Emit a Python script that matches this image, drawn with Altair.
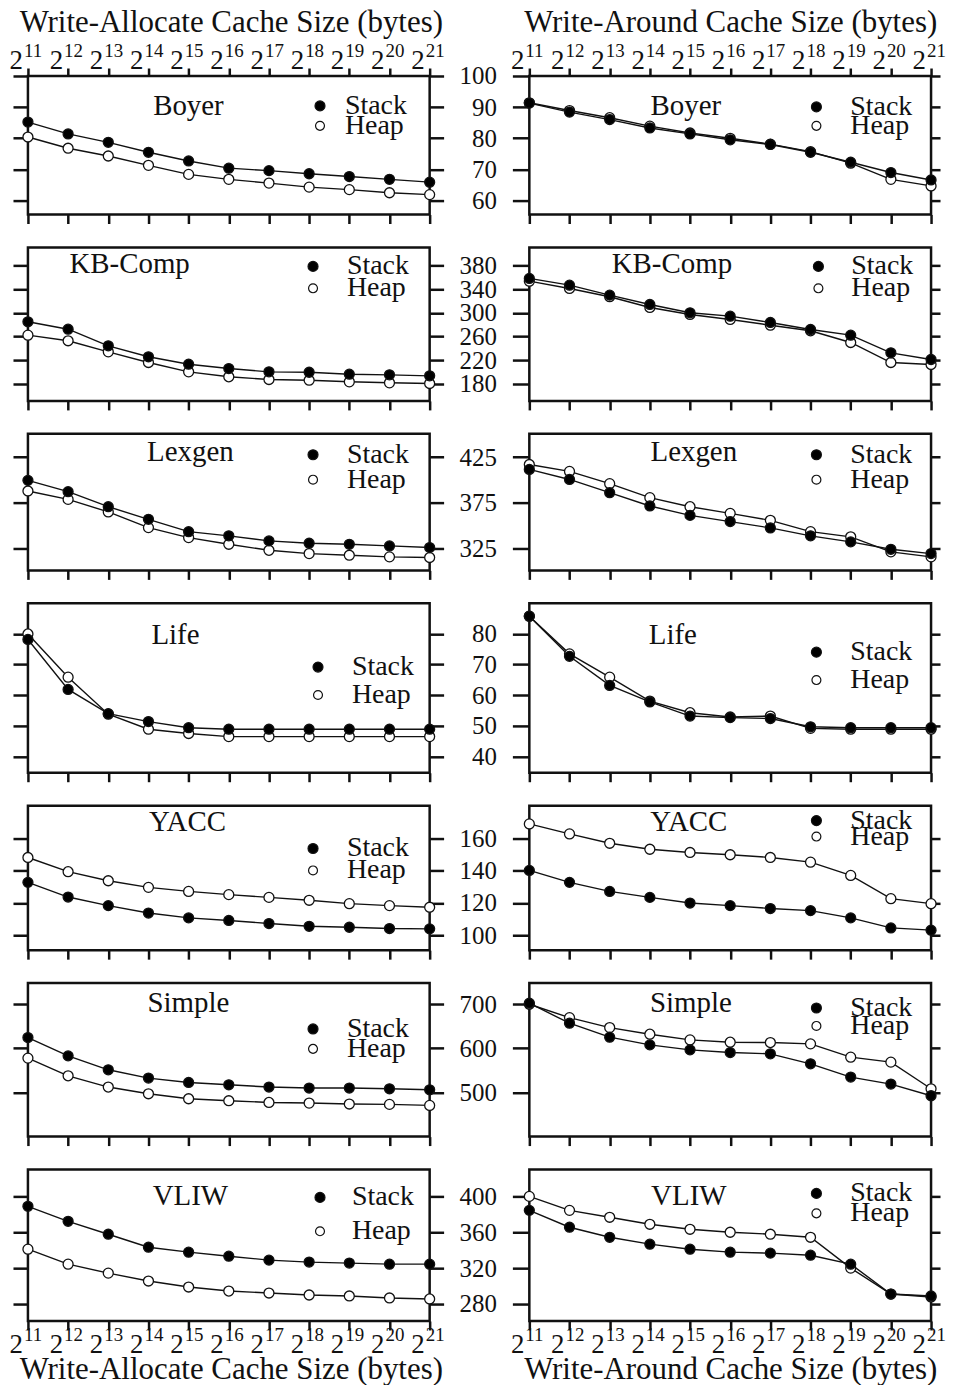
import altair as alt
import pandas as pd

# ---------------- data ----------------
exponents = [11, 12, 13, 14, 15, 16, 17, 18, 19, 20, 21]
tick_base = ["2", "2", "2", "2", "2", "2", "2", "2", "2", "2", "2"]
tick_sup = ["11", "12", "13", "14", "15", "16", "17", "18", "19", "20", "21"]
benchmarks = ["Boyer", "KB-Comp", "Lexgen", "Life", "YACC", "Simple", "VLIW"]
series_names = ["Stack", "Heap"]
x_titles = ["Write-Allocate Cache Size (bytes)", "Write-Around Cache Size (bytes)"]

boyer_alloc_stack = [85.2, 81.4, 78.7, 75.5, 72.7, 70.4, 69.6, 68.6, 67.7, 66.8, 65.9]
boyer_alloc_heap = [80.4, 76.8, 74.3, 71.3, 68.4, 66.8, 65.6, 64.3, 63.5, 62.5, 61.9]
boyer_around_stack = [91.3, 88.4, 86.0, 83.3, 81.4, 79.5, 78.0, 75.5, 72.3, 69.0, 66.6]
boyer_around_heap = [91.4, 88.9, 86.6, 83.9, 81.7, 80.0, 78.1, 75.7, 72.0, 66.8, 64.7]

kb_alloc_stack = [285.1, 272.5, 244.4, 225.8, 213.2, 205.9, 200.3, 199.6, 196.3, 195.2, 193.5]
kb_alloc_heap = [262.4, 252.9, 234.2, 216.1, 200.3, 191.9, 187.3, 186.1, 183.4, 181.7, 180.5]
kb_around_stack = [358.5, 347.1, 330.2, 314.4, 300.3, 294.6, 283.9, 272.0, 262.4, 232.5, 221.2]
kb_around_heap = [353.9, 341.5, 327.5, 309.3, 297.5, 289.0, 279.3, 269.8, 250.0, 216.1, 212.7]

lexgen_alloc_stack = [399.5, 387.1, 370.7, 356.9, 343.4, 338.8, 333.3, 330.7, 329.6, 327.8, 326.0]
lexgen_alloc_heap = [387.9, 378.7, 365.0, 347.8, 336.9, 329.6, 323.0, 319.4, 317.6, 315.8, 315.1]
lexgen_around_stack = [411.5, 400.5, 386.0, 371.5, 361.2, 354.4, 347.5, 338.8, 332.2, 324.1, 319.4]
lexgen_around_heap = [416.9, 409.3, 395.9, 380.6, 370.7, 363.4, 355.8, 343.4, 337.7, 321.3, 315.8]

life_alloc_stack = [78.2, 61.9, 54.0, 51.4, 49.4, 48.9, 48.9, 48.9, 48.9, 48.9, 48.9]
life_alloc_heap = [80.0, 65.9, 53.8, 48.9, 47.5, 46.5, 46.5, 46.5, 46.5, 46.5, 46.5]
life_around_stack = [85.8, 72.7, 63.2, 57.8, 53.2, 52.7, 52.4, 49.7, 49.4, 49.4, 49.4]
life_around_heap = [85.8, 73.5, 65.9, 58.1, 54.3, 52.9, 53.2, 49.2, 48.9, 48.9, 48.9]

yacc_alloc_stack = [132.7, 123.6, 118.3, 113.7, 110.7, 109.1, 107.2, 105.5, 104.9, 104.1, 103.9]
yacc_alloc_heap = [148.1, 139.3, 133.7, 129.6, 127.1, 125.1, 123.4, 121.6, 119.5, 118.3, 117.3]
yacc_around_stack = [140.1, 132.7, 127.1, 123.4, 119.9, 118.3, 116.5, 115.2, 110.7, 104.5, 103.1]
yacc_around_heap = [168.9, 162.7, 156.9, 153.2, 151.2, 149.8, 148.1, 145.2, 137.0, 122.6, 119.5]

simple_alloc_stack = [624.5, 583.0, 551.4, 532.6, 522.7, 517.5, 512.3, 510.1, 510.1, 508.4, 506.1]
simple_alloc_heap = [577.9, 537.8, 512.3, 497.1, 485.8, 481.3, 477.4, 476.0, 473.8, 473.0, 470.7]
simple_around_stack = [702.3, 657.0, 625.4, 607.9, 596.6, 590.5, 587.6, 565.0, 534.9, 519.0, 492.6]
simple_around_heap = [700.0, 669.7, 647.1, 632.1, 619.2, 614.0, 613.2, 610.2, 580.1, 568.8, 508.4]

vliw_alloc_stack = [388.9, 372.2, 357.8, 343.3, 337.8, 333.3, 328.9, 326.7, 325.6, 324.4, 324.4]
vliw_alloc_heap = [341.1, 324.4, 314.4, 305.6, 298.9, 294.4, 292.2, 290.0, 288.9, 286.7, 285.6]
vliw_around_stack = [384.4, 365.6, 354.4, 346.7, 341.1, 337.8, 336.7, 334.4, 324.4, 291.1, 288.9]
vliw_around_heap = [400.0, 384.4, 376.7, 368.9, 363.3, 360.0, 357.8, 354.4, 320.0, 291.1, 287.8]

y_ticks = {
    "Boyer": [60, 70, 80, 90, 100],
    "KB-Comp": [180, 220, 260, 300, 340, 380],
    "Lexgen": [325, 375, 425],
    "Life": [40, 50, 60, 70, 80],
    "YACC": [100, 120, 140, 160],
    "Simple": [500, 600, 700],
    "VLIW": [280, 320, 360, 400],
}

series_data = {
    "Boyer": [(boyer_alloc_stack, boyer_alloc_heap), (boyer_around_stack, boyer_around_heap)],
    "KB-Comp": [(kb_alloc_stack, kb_alloc_heap), (kb_around_stack, kb_around_heap)],
    "Lexgen": [(lexgen_alloc_stack, lexgen_alloc_heap), (lexgen_around_stack, lexgen_around_heap)],
    "Life": [(life_alloc_stack, life_alloc_heap), (life_around_stack, life_around_heap)],
    "YACC": [(yacc_alloc_stack, yacc_alloc_heap), (yacc_around_stack, yacc_around_heap)],
    "Simple": [(simple_alloc_stack, simple_alloc_heap), (simple_around_stack, simple_around_heap)],
    "VLIW": [(vliw_alloc_stack, vliw_alloc_heap), (vliw_around_stack, vliw_around_heap)],
}

# ---------------- layout / style ----------------
SERIF = "Liberation Serif"
INK = "#111111"
PANEL_W = 403
row_heights = [139, 154, 137, 170, 145, 154, 152]
y_domains = {
    "Boyer": [55.5, 100],
    "KB-Comp": [151, 411],
    "Lexgen": [301, 450.4],
    "Life": [34.7, 90],
    "YACC": [90.7, 180.2],
    "Simple": [400, 748],
    "VLIW": [261, 430],
}
# panel-name position (x, y) inside each panel, [left, right]
name_pos = {
    "Boyer": [(161, 30), (157, 30)],
    "KB-Comp": [(102, 17), (143, 17)],
    "Lexgen": [(163, 18), (165, 18)],
    "Life": [(148, 32), (144, 32)],
    "YACC": [(160, 16), (160, 16)],
    "Simple": [(161, 20), (162, 20)],
    "VLIW": [(163, 27), (160, 27)],
}
# legend: (symbol x, label x, stack y, heap y), [left, right]
legend_pos = {
    "Boyer": [(293, 318, 30, 50), (288, 322, 31, 50)],
    "KB-Comp": [(286, 320, 19, 41), (290, 323, 19, 41)],
    "Lexgen": [(286, 320, 21, 46), (288, 322, 21, 46)],
    "Life": [(291, 325, 64, 92), (288, 322, 49, 77)],
    "YACC": [(286, 320, 43, 65), (288, 322, 15, 31)],
    "Simple": [(286, 320, 46, 66), (288, 322, 25, 43)],
    "VLIW": [(293, 325, 28, 62), (288, 322, 24, 44)],
}
title_center = [204, 202]


def make_panel(r, c):
    key = benchmarks[r]
    stack, heap = series_data[key][c]
    rows = []
    for e, v in zip(exponents, heap):
        rows.append({"exp": e, "val": v, "series": "Heap"})
    for e, v in zip(exponents, stack):
        rows.append({"exp": e, "val": v, "series": "Stack"})
    df = pd.DataFrame(rows)
    h = row_heights[r]

    xs = alt.Scale(domain=[11, 21], nice=False, zero=False)
    ys = alt.Scale(domain=y_domains[key], nice=False, zero=False)
    is_top = r == 0
    is_bot = r == len(benchmarks) - 1

    bottom_axis = alt.Axis(orient="bottom", values=exponents, tickSize=9, domain=False,
                           grid=False, labels=False, title=None)
    if c == 0:
        left_axis = alt.Axis(orient="left", values=y_ticks[key], tickSize=15, labels=False,
                             domain=False, grid=False, title=None)
        right_axis = alt.Axis(orient="right", values=y_ticks[key], tickSize=14, labels=False,
                              domain=False, grid=False, title=None)
    else:
        left_axis = alt.Axis(orient="left", values=y_ticks[key], tickSize=17, labels=True,
                             labelPadding=16, labelFontSize=25, labelFlush=False,
                             labelOverlap=False, domain=False, grid=False, title=None)
        right_axis = alt.Axis(orient="right", values=y_ticks[key], tickSize=9, labels=False,
                              domain=False, grid=False, title=None)

    lines = alt.Chart(df).mark_line(color=INK, strokeWidth=1.4).encode(
        x=alt.X("exp:Q", scale=xs, axis=bottom_axis),
        y=alt.Y("val:Q", scale=ys, axis=left_axis),
        detail="series:N",
    )

    if is_top:
        top_axis = alt.Axis(orient="top", values=exponents, tickSize=8, domain=False,
                            grid=False, labels=False, title=None)
        x_pts = alt.X("exp:Q", scale=xs, axis=top_axis)
    else:
        x_pts = alt.X("exp:Q", scale=xs, axis=None)

    points = alt.Chart(df).mark_point(
        shape="circle", size=100, filled=True, stroke=INK, strokeWidth=1.3, opacity=1
    ).encode(
        x=x_pts,
        y=alt.Y("val:Q", scale=ys, axis=right_axis),
        fill=alt.Fill("series:N", scale=alt.Scale(domain=series_names, range=["#000000", "#ffffff"]),
                      legend=None),
    )

    layers = [lines, points]

    # tick labels 2^n (base + superscript) and axis titles
    if is_top or is_bot:
        lab_df = pd.DataFrame({"exp": exponents, "base": tick_base, "sup": tick_sup})
        if is_top:
            yb, ysup, yt = -7, -19, -44
        else:
            yb, ysup, yt = h + 32, h + 20, h + 58
        layers.append(
            alt.Chart(lab_df).mark_text(font=SERIF, fontSize=27, align="right",
                                        baseline="alphabetic", dx=-5, color=INK)
            .encode(x=alt.X("exp:Q", scale=xs, axis=None), y=alt.value(yb), text="base:N")
        )
        layers.append(
            alt.Chart(lab_df).mark_text(font=SERIF, fontSize=19, align="left",
                                        baseline="alphabetic", dx=-4, color=INK)
            .encode(x=alt.X("exp:Q", scale=xs, axis=None), y=alt.value(ysup), text="sup:N")
        )
        layers.append(
            alt.Chart(alt.Data(values=[{"t": x_titles[c]}])).mark_text(
                font=SERIF, fontSize=31, align="center", baseline="alphabetic", color=INK
            ).encode(x=alt.value(title_center[c]), y=alt.value(yt), text="t:N")
        )

    nx, ny = name_pos[key][c]
    layers.append(
        alt.Chart(alt.Data(values=[{"t": key}])).mark_text(
            font=SERIF, fontSize=29, align="center", baseline="middle", color=INK
        ).encode(x=alt.value(nx), y=alt.value(ny), text="t:N")
    )

    sx, lx, sy, hy = legend_pos[key][c]
    for name, yy, fill in [("Stack", sy, "#000000"), ("Heap", hy, "#ffffff")]:
        src = alt.Data(values=[{"t": name}])
        layers.append(
            alt.Chart(src).mark_point(shape="circle", size=100 if name == "Stack" else 80,
                                      filled=True, fill=fill, stroke=INK, strokeWidth=1.2,
                                      opacity=1)
            .encode(x=alt.value(sx), y=alt.value(yy))
        )
        layers.append(
            alt.Chart(src).mark_text(font=SERIF, fontSize=28, align="left", baseline="middle",
                                     color=INK)
            .encode(x=alt.value(lx), y=alt.value(yy), text="t:N")
        )

    return alt.layer(*layers).resolve_axis(
        x="independent", y="independent"
    ).properties(width=PANEL_W, height=h)


panels = []
for r in range(len(benchmarks)):
    for c in range(2):
        panels.append(make_panel(r, c))

chart = alt.concat(
    *panels, columns=2, spacing={"row": 33, "column": 100}, bounds="flush"
).properties(
    padding={"left": 0, "top": -5, "right": -2, "bottom": -4}
).configure_view(
    stroke=INK, strokeWidth=2.5
).configure_axis(
    tickColor=INK, tickWidth=2.5, labelColor=INK, titleColor=INK,
    labelFont=SERIF, titleFont=SERIF, titleFontWeight="normal"
)

chart.save("out.html", embed_options={"renderer": "svg", "actions": False})
